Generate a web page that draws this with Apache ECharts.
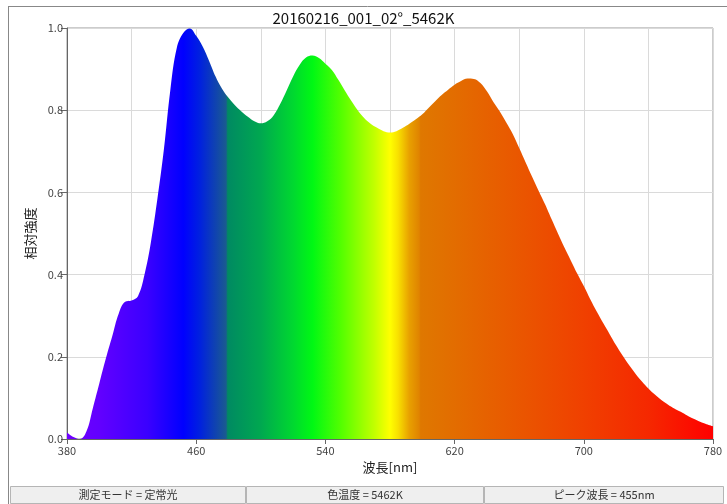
<!DOCTYPE html>
<html>
<head>
<meta charset="utf-8">
<script src="https://cdn.jsdelivr.net/npm/echarts@6/dist/echarts.min.js"></script>
<style>
html,body{margin:0;padding:0;background:#fff;}
#chart{width:727px;height:504px;}
</style>
</head>
<body>
<div id="chart"></div>
<script>
// Wavelength (nm), sampled every 4 nm
const wavelengths = [380,384,388,392,396,400,404,408,412,416,420,424,428,432,436,440,444,448,452,456,460,464,468,472,476,480,484,488,492,496,500,504,508,512,516,520,524,528,532,536,540,544,548,552,556,560,564,568,572,576,580,584,588,592,596,600,604,608,612,616,620,624,628,632,636,640,644,648,652,656,660,664,668,672,676,680,684,688,692,696,700,704,708,712,716,720,724,728,732,736,740,744,748,752,756,760,764,768,772,776,780];
// Relative intensity
const intensity = [0.016,0.005,0.0,0.018,0.075,0.135,0.195,0.25,0.305,0.334,0.337,0.348,0.40,0.48,0.585,0.705,0.85,0.952,0.988,0.999,0.981,0.955,0.92,0.882,0.852,0.83,0.812,0.797,0.784,0.773,0.768,0.773,0.788,0.815,0.848,0.882,0.91,0.928,0.933,0.927,0.913,0.898,0.874,0.848,0.823,0.80,0.781,0.767,0.757,0.749,0.746,0.749,0.757,0.767,0.778,0.79,0.806,0.822,0.837,0.85,0.862,0.871,0.877,0.876,0.866,0.846,0.82,0.797,0.77,0.742,0.708,0.673,0.638,0.604,0.571,0.535,0.50,0.466,0.434,0.402,0.372,0.34,0.31,0.282,0.255,0.228,0.203,0.18,0.159,0.14,0.123,0.108,0.095,0.084,0.074,0.066,0.057,0.049,0.042,0.036,0.031];
// Spectrum colour stops (wavelength, colour)
const colorWl = [380,400,430,452,462,478.5,479.5,500,520,532,550,570,580,585,592,598,599,650,700,740,780];
const colorHex = ['#7000ff','#6200ff','#3a00ff','#0000ff','#0020e0','#1a5a90','#008a62','#00a850','#00d830','#00f814','#55ff00','#c0ff00','#ffff00','#f8e000','#e8a000','#e08400','#df7800','#e85c00','#f04000','#f52800','#ff0000'];
const xTicks = [380,460,540,620,700,780];
const yTicks = [0,0.2,0.4,0.6,0.8,1.0];
const titleText = '20160216_001_02°_5462K';
const statusTexts = ['測定モード = 定常光','色温度 = 5462K','ピーク波長 = 455nm'];

const xMin = xTicks[0], xMax = xTicks[xTicks.length-1];
const stops = colorWl.map((w,i)=>({offset:(w-xMin)/(xMax-xMin), color:colorHex[i]}));
const font = '"Noto Sans CJK JP", "Noto Sans", sans-serif';

const chart = echarts.init(document.getElementById('chart'), null, {renderer:'canvas'});

const boxes = [[10,246],[246,484],[484,724]];
const graphics = [
  {type:'line', shape:{x1:8,y1:6.5,x2:727,y2:6.5}, style:{stroke:'#888',lineWidth:1}},
  {type:'line', shape:{x1:8.5,y1:6,x2:8.5,y2:504}, style:{stroke:'#888',lineWidth:1}}
];
boxes.forEach((b,i)=>{
  graphics.push({type:'rect', shape:{x:b[0]+0.5,y:486.5,width:b[1]-b[0]-1,height:17}, style:{fill:'#efefef',stroke:'#b5b5b5',lineWidth:1}});
  graphics.push({type:'text', x:(b[0]+b[1])/2, y:495, style:{text:statusTexts[i], fill:'#333', font:'11px '+font, textAlign:'center', textVerticalAlign:'middle'}});
});

chart.setOption({
  animation:false,
  backgroundColor:'#fff',
  title:{text:titleText, left:'center', top:6, textStyle:{fontFamily:font, fontSize:15, fontWeight:'normal', color:'#111'}},
  grid:{left:67, top:28, right:14, bottom:65, show:true, borderColor:'#999', borderWidth:1, backgroundColor:'#fff'},
  xAxis:{
    type:'value', min:xMin, max:xMax, interval:80,
    name:'波長[nm]', nameLocation:'middle', nameGap:22,
    nameTextStyle:{fontFamily:font, fontSize:13, color:'#222'},
    axisLine:{show:true, lineStyle:{color:'#666'}},
    axisTick:{show:true, length:5, lineStyle:{color:'#666'}},
    axisLabel:{fontFamily:font, fontSize:11, color:'#444', margin:6},
    splitLine:{show:true, lineStyle:{color:'#dadada'}},
    minorTick:{show:false, splitNumber:2},
    minorSplitLine:{show:true, lineStyle:{color:'#dadada'}}
  },
  yAxis:{
    type:'value', min:0, max:1, interval:0.2,
    name:'相対強度', nameLocation:'middle', nameGap:27, nameRotate:90,
    nameTextStyle:{fontFamily:font, fontSize:13, color:'#222'},
    axisLine:{show:true, lineStyle:{color:'#666'}},
    axisTick:{show:true, length:6, lineStyle:{color:'#666'}},
    axisLabel:{fontFamily:font, fontSize:11, color:'#444', margin:4, formatter:v=>v.toFixed(1)},
    splitLine:{show:true, lineStyle:{color:'#dadada'}}
  },
  series:[{
    type:'line',
    data:wavelengths.map((w,i)=>[w,intensity[i]]),
    smooth:0.4,
    showSymbol:false,
    lineStyle:{width:0, opacity:0},
    areaStyle:{opacity:1, color:new echarts.graphic.LinearGradient(0,0,1,0,stops)}
  }],
  graphic:graphics
});
</script>
</body>
</html>
